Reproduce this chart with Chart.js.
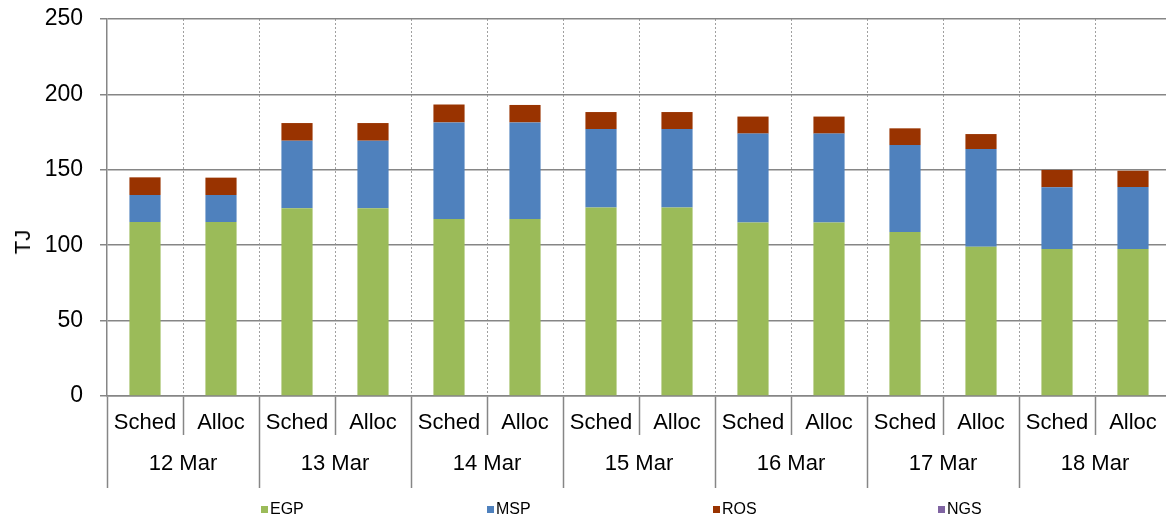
<!DOCTYPE html>
<html><head><meta charset="utf-8">
<script src="https://cdn.jsdelivr.net/npm/chart.js@4"></script>
<style>
html,body{margin:0;padding:0;overflow:hidden;background:#fff;}
#wrap{position:relative;width:1166px;height:521px;overflow:hidden;}
canvas{position:absolute;left:0;top:0;}
#ytitle{position:absolute;left:22.5px;top:242px;transform:translate(-50%,-50%) rotate(-90deg);font:22px 'Liberation Sans',Arial,sans-serif;white-space:nowrap;color:#000;}
.lg{position:absolute;top:500px;height:18px;font:16px 'Liberation Sans',Arial,sans-serif;color:#000;display:flex;align-items:center;white-space:nowrap;}
.lg i{display:inline-block;width:7px;height:7px;margin-right:2px;}
</style></head>
<body><div id="wrap"><canvas id="c" width="1171" height="521"></canvas><div id="ytitle">TJ</div></div>
<script>
// ---- data ----
const tickLabels = ['Sched','Alloc','Sched','Alloc','Sched','Alloc','Sched','Alloc','Sched','Alloc','Sched','Alloc','Sched','Alloc'];
const days = ['12 Mar','13 Mar','14 Mar','15 Mar','16 Mar','17 Mar','18 Mar'];
const egp = [115.4,115.4,124.5,124.5,117.4,117.4,125.0,125.0,115.0,115.0,108.8,99.0,97.5,97.5];
const msp = [17.9,17.9,44.8,44.8,64.0,64.0,52.0,52.0,59.0,59.0,57.6,64.8,40.9,41.1];
const ros = [11.7,11.5,11.7,11.7,11.9,11.6,11.3,11.3,11.3,11.3,11.1,9.9,11.5,10.8];
const ngs = [0,0,0,0,0,0,0,0,0,0,0,0,0,0];
const seriesNames = ['EGP','MSP','ROS','NGS'];
const yTicks = [0,50,100,150,200,250];

// ---- style ----
const seriesColors = ['#9BBB59','#4F81BD','#993300','#8064A2'];
const legendLeft = [261,487,713,938];
const FONT = "'Liberation Sans', Arial, sans-serif";
const axisGray = '#868686';

const seriesData = [egp, msp, ros, ngs];
const chart = new Chart(document.getElementById('c'), {
  type: 'bar',
  data: {
    labels: tickLabels,
    datasets: seriesNames.map((n, i) => ({
      label: n, data: seriesData[i], backgroundColor: seriesColors[i],
      barPercentage: 0.41, categoryPercentage: 1, borderWidth: 0
    }))
  },
  options: {
    responsive: false, animation: false, devicePixelRatio: 1,
    layout: { padding: { top: 19, left: 0, right: 0, bottom: 33 } },
    plugins: { legend: { display: false }, tooltip: { enabled: false } },
    scales: {
      x: {
        stacked: true, offset: true, weight: 0,
        grid: { offset: true, color: c => c.index === 0 ? 'rgba(0,0,0,0)' : '#a0a0a0', lineWidth: 1,
                tickColor: axisGray, tickWidth: 1.5, tickLength: 39, tickBorderDash: [] },
        border: { display: true, color: axisGray, width: 1.5, dash: [2, 2] },
        ticks: { color: '#000', font: { family: FONT, size: 22 }, padding: -25, maxRotation: 0, autoSkip: false },
        afterFit: s => { s.height = 39; s.paddingLeft = 0; s.paddingRight = 0; }
      },
      x2: {
        type: 'category', labels: days, position: 'bottom', offset: true, weight: 1,
        grid: { offset: true, drawOnChartArea: false, tickColor: axisGray, tickWidth: 1.5, tickLength: 53 },
        border: { display: false },
        ticks: { color: '#000', font: { family: FONT, size: 22 }, padding: -37, maxRotation: 0, autoSkip: false },
        afterFit: s => { s.height = 53; s.paddingLeft = 0; s.paddingRight = 0; }
      },
      y: {
        stacked: true, min: 0, max: 250,
        afterBuildTicks: s => { s.ticks = yTicks.map(v => ({ value: v })); },
        ticks: { color: '#000', font: { family: FONT, size: 23 }, padding: 17 },
        grid: { color: axisGray, lineWidth: 1.5, tickLength: 7, tickColor: axisGray, tickWidth: 1.5 },
        border: { color: axisGray, width: 1.5 },
        afterFit: s => { s.width = 107; s.paddingTop = 0; s.paddingBottom = 0; }
      }
    }
  }
});

// legend (HTML, built from the series arrays)
const wrap = document.getElementById('wrap');
seriesNames.forEach((n, i) => {
  const d = document.createElement('div');
  d.className = 'lg';
  d.style.left = legendLeft[i] + 'px';
  const sw = document.createElement('i');
  sw.style.background = seriesColors[i];
  d.appendChild(sw);
  d.appendChild(document.createTextNode(n));
  wrap.appendChild(d);
});
</script>
</body></html>
